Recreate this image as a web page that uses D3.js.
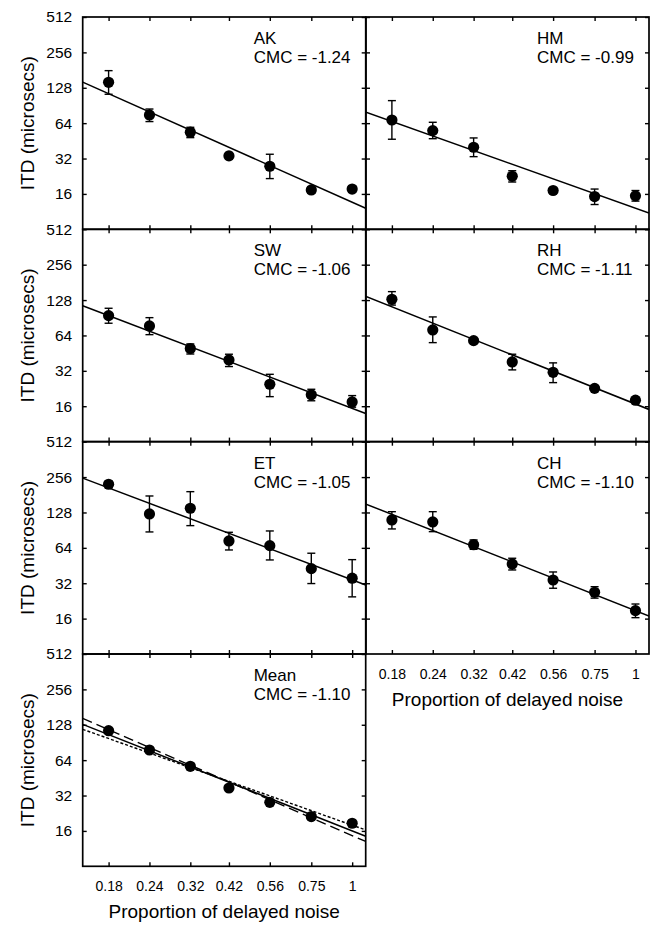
<!DOCTYPE html>
<html>
<head>
<meta charset="utf-8">
<script src="https://cdn.jsdelivr.net/npm/d3@7"></script>
<style>
  html, body { margin: 0; padding: 0; background: #fff; }
  svg { display: block; font-family: "Liberation Sans", Arial, Helvetica, sans-serif; }
</style>
</head>
<body>
<svg id="chart" width="654" height="926"></svg>
<script>
// ---------- data ----------
const proportions = [0.18, 0.24, 0.32, 0.42, 0.56, 0.75, 1];
const xTickLabels = ["0.18", "0.24", "0.32", "0.42", "0.56", "0.75", "1"];
const yTicks = [512, 256, 128, 64, 32, 16];
const listeners = ["AK", "HM", "SW", "RH", "ET", "CH", "Mean"];
const cmcValues = [-1.24, -0.99, -1.06, -1.11, -1.05, -1.10, -1.10];
const fitAtOne = [13.6, 12.1, 15.35, 16.7, 34.2, 18.7, 16.0]; // fitted ITD at proportion = 1

const itdAK = [142.5, 75.2, 53.6, 33.7, 27.5, 17.3, 17.6];
const loAK  = [112.7, 66.0, 48.2, 31.5, 21.6, 16.2, 16.5];
const hiAK  = [179.0, 84.4, 59.0, 36.0, 34.8, 18.4, 18.8];

const itdHM = [68.1, 55.3, 39.9, 22.6, 17.1, 15.2, 15.4];
const loHM  = [46.7, 47.2, 33.2, 20.2, 16.2, 13.0, 13.9];
const hiHM  = [99.5, 65.1, 47.9, 25.2, 18.0, 17.6, 17.1];

const itdSW = [94.3, 77.1, 49.5, 39.6, 24.6, 20.0, 17.4];
const loSW  = [81.3, 65.0, 44.5, 34.8, 19.3, 17.8, 15.7];
const hiSW  = [109.0, 90.7, 54.2, 44.3, 29.9, 22.3, 19.7];

const itdRH = [130.0, 71.3, 57.8, 38.1, 31.1, 22.7, 18.0];
const loRH  = [116.0, 55.6, 55.5, 32.6, 25.4, 21.8, 17.3];
const hiRH  = [151.0, 92.0, 60.2, 44.3, 37.4, 23.7, 18.8];

const itdET = [222.4, 124.3, 139.0, 73.3, 66.8, 42.6, 35.3];
const loET  = [208.0, 87.4, 98.9, 61.4, 50.5, 31.8, 24.5];
const hiET  = [236.0, 176.8, 192.4, 86.8, 89.1, 57.6, 50.8];

const itdCH = [110.5, 106.3, 68.1, 46.7, 34.1, 26.8, 18.7];
const loCH  = [92.7, 87.9, 62.2, 41.5, 29.0, 23.9, 16.3];
const hiCH  = [130.0, 130.0, 74.7, 52.2, 39.9, 29.9, 21.3];

const itdMean = [114.0, 78.1, 56.7, 37.1, 28.0, 21.2, 18.6];

// extra reference fits shown in the Mean panel (long-dashed, dotted)
const meanRefSlopes = [-1.21, -0.99];
const meanRefAtOne = [14.6, 17.9];
const meanRefDash = ["10,5", "3,2"];

const itdSets = [itdAK, itdHM, itdSW, itdRH, itdET, itdCH, itdMean];
const loSets  = [loAK, loHM, loSW, loRH, loET, loCH, null];
const hiSets  = [hiAK, hiHM, hiSW, hiRH, hiET, hiCH, null];

// ---------- layout ----------
const colX = [82.7, 366];
const panelW = 283;
const rowY = [17, 229.3, 441.7, 654];
const panelH = 212.3;
const xDomain = [0.15, 1.1];
const yDomain = [8, 512];

const svg = d3.select("#chart");
const defs = svg.append("defs");

listeners.forEach((name, i) => {
  const col = i === 6 ? 0 : i % 2;
  const row = Math.floor(i / 2);
  const x0 = colX[col], y0 = rowY[row];
  const x = d3.scaleLog().domain(xDomain).range([x0, x0 + panelW]);
  const y = d3.scaleLog().base(2).domain(yDomain).range([y0 + panelH, y0]);
  const g = svg.append("g");

  defs.append("clipPath").attr("id", "clip" + i)
    .append("rect").attr("x", x0).attr("y", y0).attr("width", panelW).attr("height", panelH);

  const fitLine = (slope, atOne) => d3.line()
    .x(d => x(d))
    .y(d => y(atOne * Math.pow(d, slope)))(xDomain);

  const lines = g.append("g").attr("clip-path", `url(#clip${i})`);
  if (name === "Mean") {
    meanRefSlopes.forEach((s, k) => {
      lines.append("path").attr("d", fitLine(s, meanRefAtOne[k]))
        .attr("fill", "none").attr("stroke", "#000").attr("stroke-width", 1.4)
        .attr("stroke-dasharray", meanRefDash[k]);
    });
  }
  lines.append("path").attr("d", fitLine(cmcValues[i], fitAtOne[i]))
    .attr("fill", "none").attr("stroke", "#000").attr("stroke-width", 1.5);

  // error bars
  const lo = loSets[i], hi = hiSets[i];
  if (lo) {
    const eb = g.append("g").attr("stroke", "#000").attr("stroke-width", 1.4);
    proportions.forEach((p, k) => {
      const cx = x(p);
      eb.append("line").attr("x1", cx).attr("x2", cx).attr("y1", y(lo[k])).attr("y2", y(hi[k]));
      eb.append("line").attr("x1", cx - 4).attr("x2", cx + 4).attr("y1", y(lo[k])).attr("y2", y(lo[k]));
      eb.append("line").attr("x1", cx - 4).attr("x2", cx + 4).attr("y1", y(hi[k])).attr("y2", y(hi[k]));
    });
  }

  // dots
  g.append("g").selectAll("circle").data(itdSets[i]).join("circle")
    .attr("cx", (d, k) => x(proportions[k]))
    .attr("cy", d => y(d))
    .attr("r", 5.6)
    .attr("fill", "#000");

  // axes (inward ticks on all four sides)
  const isBottomLabeled = (name === "Mean" || name === "CH");
  const isLeftLabeled = col === 0;

  const styleAxis = sel => {
    sel.select(".domain").remove();
    sel.selectAll(".tick line").attr("stroke", "#000").attr("stroke-width", 1.4);
    sel.selectAll(".tick text").attr("fill", "#000");
  };

  g.append("g").attr("transform", `translate(0,${y0})`)
    .call(d3.axisTop(x).tickValues(proportions).tickFormat("").tickSizeInner(-4).tickSizeOuter(0))
    .call(styleAxis);

  g.append("g").attr("transform", `translate(0,${y0 + panelH})`)
    .call(d3.axisBottom(x).tickValues(proportions)
      .tickFormat(isBottomLabeled ? ((d, k) => xTickLabels[k]) : "")
      .tickSizeInner(-4).tickSizeOuter(0).tickPadding(15))
    .call(styleAxis)
    .call(s => s.selectAll(".tick text").attr("font-size", 14).attr("font-family", null));

  g.append("g").attr("transform", `translate(${x0},0)`)
    .call(d3.axisLeft(y).tickValues(yTicks)
      .tickFormat(isLeftLabeled ? d3.format("d") : "")
      .tickSizeInner(-4).tickSizeOuter(0).tickPadding(10.5))
    .call(styleAxis)
    .call(s => s.selectAll(".tick text").attr("font-size", 15.5).attr("font-family", null));

  g.append("g").attr("transform", `translate(${x0 + panelW},0)`)
    .call(d3.axisRight(y).tickValues(yTicks).tickFormat("").tickSizeInner(-4).tickSizeOuter(0))
    .call(styleAxis);

  // border
  g.append("rect").attr("x", x0).attr("y", y0).attr("width", panelW).attr("height", panelH)
    .attr("fill", "none").attr("stroke", "#000").attr("stroke-width", 1.7);

  // annotation
  const ann = g.append("text").attr("font-size", 17).attr("fill", "#000");
  ann.append("tspan").attr("x", x0 + 171).attr("y", y0 + 27).text(name);
  ann.append("tspan").attr("x", x0 + 171).attr("y", y0 + 46)
    .text("CMC = " + d3.format(".2f")(cmcValues[i]).replace("−", "-"));

  // y title
  if (isLeftLabeled) {
    g.append("text")
      .attr("transform", `translate(33.5,${y0 + panelH / 2}) rotate(-90)`)
      .attr("text-anchor", "middle").attr("font-size", 19).attr("fill", "#000")
      .text("ITD (microsecs)");
  }
  // x title
  if (isBottomLabeled) {
    g.append("text")
      .attr("x", x0 + panelW / 2).attr("y", y0 + panelH + 52)
      .attr("text-anchor", "middle").attr("font-size", 19).attr("fill", "#000")
      .text("Proportion of delayed noise");
  }
});
</script>
</body>
</html>
